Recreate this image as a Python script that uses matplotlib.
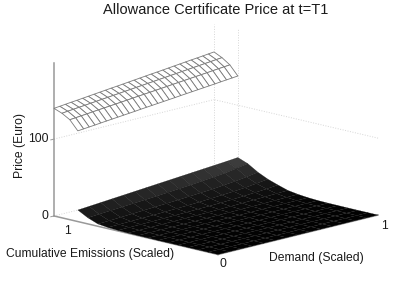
import numpy as np
import matplotlib
matplotlib.use("Agg")
import matplotlib.pyplot as plt
from matplotlib.colors import Normalize

plt.rcParams['font.family'] = ['Liberation Sans', 'DejaVu Sans']

TITLE = "Allowance Certificate Price at t=T1"
X_LABEL = "Demand (Scaled)"
Y_LABEL = "Cumulative Emissions (Scaled)"
Z_LABEL = "Price (Euro)"
Z_TICKS = [0, 100]
E_MAX = 1.17
Z_MAX = 199

# lower surface: rows = emissions, columns = demand
emissions_low = [0.000, 0.071, 0.143, 0.214, 0.286, 0.357, 0.429, 0.500,
                 0.571, 0.643, 0.714, 0.786, 0.857, 0.929, 1.000]
demand_low = [0.000, 0.071, 0.143, 0.214, 0.286, 0.357, 0.429, 0.500,
              0.571, 0.643, 0.714, 0.786, 0.857, 0.929, 1.000]
price_low = [
    [0, 0, 0, 0, 0, 0, 0, 0, 0, 0, 0, 0, 0, 0, 0],
    [0, 0, 0, 0, 0, 0, 0, 0, 0, 0, 0, 0, 0, 0, 0],
    [0, 0, 0, 0, 0, 0, 0, 0, 0, 0, 0, 0, 0, 0, 0],
    [0, 0, 0, 0, 0, 0, 0, 0, 0, 0, 0, 0, 0, 0, 0],
    [0, 0, 0, 0, 0, 0, 0, 0, 0, 0, 0, 0, 0, 0.05, 0.1],
    [0, 0, 0, 0, 0, 0, 0, 0, 0, 0.05, 0.05, 0.1, 0.1, 0.15, 0.2],
    [0, 0, 0.05, 0.1, 0.1, 0.15, 0.15, 0.2, 0.2, 0.25, 0.3, 0.3, 0.35, 0.4, 0.5],
    [0.1, 0.1, 0.15, 0.2, 0.25, 0.3, 0.35, 0.4, 0.5, 0.6, 0.7, 0.8, 0.9, 1, 1.2],
    [0.2, 0.25, 0.3, 0.4, 0.5, 0.6, 0.7, 0.8, 1, 1.2, 1.4, 1.6, 1.9, 2.2, 2.5],
    [0.4, 0.5, 0.6, 0.7, 0.9, 1.1, 1.3, 1.5, 1.8, 2.1, 2.5, 3, 3.5, 4, 4.5],
    [0.8, 1, 1.2, 1.4, 1.7, 2, 2.3, 2.7, 3.1, 3.6, 4.2, 5, 6, 7, 8.5],
    [1.5, 1.8, 2.2, 2.6, 3, 3.5, 4, 4.5, 5.2, 6, 7, 8, 9.2, 11, 13],
    [3, 3.6, 4.4, 5.2, 6, 6.8, 7.6, 8.5, 9.5, 10.5, 11.5, 13, 14.5, 16.5, 19],
    [8, 9, 10, 11, 12, 13, 14, 15.2, 16.4, 17.6, 19, 20.5, 22, 24.5, 27],
    [15, 16.2, 17.4, 18.6, 19.8, 21, 22.2, 23.4, 24.6, 25.8, 27, 28.2, 29.4, 30.6, 32],
]

# upper surface: rows = emissions, columns = demand
emissions_up = [1.000, 1.057, 1.113, 1.170]
demand_up = [0.000, 0.036, 0.071, 0.107, 0.143, 0.179, 0.214, 0.250, 0.286, 0.321,
             0.357, 0.393, 0.429, 0.464, 0.500, 0.536, 0.571, 0.607, 0.643, 0.679,
             0.714, 0.750, 0.786, 0.821, 0.857, 0.893, 0.929, 0.964, 1.000]
price_up = [
    [118, 118.7, 119.4, 120.1, 120.9, 121.6, 122.3, 123, 123.7, 124.4, 125.1, 125.9, 126.6, 127.3, 128,
     128.7, 129.4, 130.1, 130.9, 131.6, 132.3, 133, 133.7, 134.4, 135.1, 135.9, 136.6, 137.3, 138],
    [130, 130.7, 131.4, 132.1, 132.9, 133.6, 134.3, 135, 135.7, 136.4, 137.1, 137.9, 138.6, 139.3, 140,
     140.7, 141.4, 142.1, 142.9, 143.6, 144.3, 145, 145.7, 146.4, 147.1, 147.9, 148.6, 149.3, 150],
    [136, 136.8, 137.5, 138.3, 139, 139.8, 140.5, 141.3, 142, 142.8, 143.5, 144.3, 145, 145.8, 146.5,
     147.3, 148, 148.8, 149.5, 150.3, 151, 151.8, 152.5, 153.3, 154, 154.8, 155.5, 156.3, 157],
    [140, 140.8, 141.6, 142.4, 143.1, 143.9, 144.7, 145.5, 146.3, 147.1, 147.9, 148.6, 149.4, 150.2, 151,
     151.8, 152.6, 153.4, 154.1, 154.9, 155.7, 156.5, 157.3, 158.1, 158.9, 159.6, 160.4, 161.2, 162],
]

W, H = 415, 288
AX = "#999999"
GRID = "#d6d6d6"


def px_text(x, y, s, **kw):
    kw.setdefault("ha", "center")
    kw.setdefault("va", "center")
    kw.setdefault("fontsize", 8.7)
    kw.setdefault("color", "#1a1a1a")
    fig.text(x / W, 1 - y / H, s, **kw)


fig = plt.figure(figsize=(W / 100, H / 100), dpi=100)
S = 269
ax = fig.add_axes([(216 - 0.5135 * S) / W, (149 - 0.5135 * S) / H, S / W, S / H],
                  projection="3d")
ax.set_proj_type("ortho")
ax.view_init(elev=13.93, azim=-135.7)
ax.set_box_aspect((229.1, 229.1, 157.6), zoom=349.8 / S)
ax.set_xlim(0, 1, view_margin=0)
ax.set_ylim(0, E_MAX, view_margin=0)
ax.set_zlim(0, Z_MAX, view_margin=0)
ax.set_axis_off()
ax.computed_zorder = False
ax.patch.set_alpha(0)

# dotted grid on walls and floor
grid_kw = dict(color=GRID, lw=0.7, ls=(0, (1, 1.6)), zorder=1)
for z in Z_TICKS:
    ax.plot([0, 1], [E_MAX, E_MAX], [z, z], **grid_kw)
    ax.plot([1, 1], [0, E_MAX], [z, z], **grid_kw)
ax.plot([1, 1], [E_MAX, E_MAX], [0, Z_MAX], **grid_kw)
ax.plot([1, 1], [1, 1], [0, Z_MAX], **grid_kw)

# axes lines and ticks
axis_kw = dict(color=AX, lw=1.1, zorder=1.5)
ax.plot([0, 0], [E_MAX, E_MAX], [0, Z_MAX], **axis_kw)
ax.plot([0, 0], [0, E_MAX], [0, 0], **axis_kw)
ax.plot([0, 1], [0, 0], [0, 0], **axis_kw)
for z in Z_TICKS:
    ax.plot([-0.02, 0], [E_MAX, E_MAX], [z, z], color=AX, lw=0.7, zorder=1.5)

# lower surface
E_lo, D_lo = np.meshgrid(emissions_low, demand_low, indexing="ij")
Z_lo = np.array(price_low, dtype=float)
tone = Normalize(vmin=-1.5, vmax=130)(Z_lo + 6 * E_lo ** 2)
ax.plot_surface(D_lo, E_lo, Z_lo, rcount=15, ccount=15, shade=False,
                facecolors=plt.cm.gray(tone), edgecolor="#080808", linewidth=0.15,
                antialiased=True, zorder=2)

# upper surface
E_hi, D_hi = np.meshgrid(emissions_up, demand_up, indexing="ij")
Z_hi = np.array(price_up, dtype=float)
ax.plot_surface(D_hi, E_hi, Z_hi, rcount=4, ccount=29, shade=False,
                color="white", edgecolor="#7a7a7a", linewidth=0.6, zorder=3)

for artist in list(ax.lines) + list(ax.collections):
    artist.set_clip_on(False)

px_text(216, 9.5, TITLE, fontsize=10.5)
px_text(20.5, 146, Z_LABEL, rotation=90)
px_text(90, 253.5, Y_LABEL)
px_text(316, 257.5, X_LABEL)
px_text(48.5, 139, str(Z_TICKS[1]), ha="right")
px_text(48.5, 216, str(Z_TICKS[0]), ha="right")
px_text(67, 231.5, "1")
px_text(223, 264, "0")
px_text(384, 226, "1")

fig.savefig("out.png", dpi=100)
